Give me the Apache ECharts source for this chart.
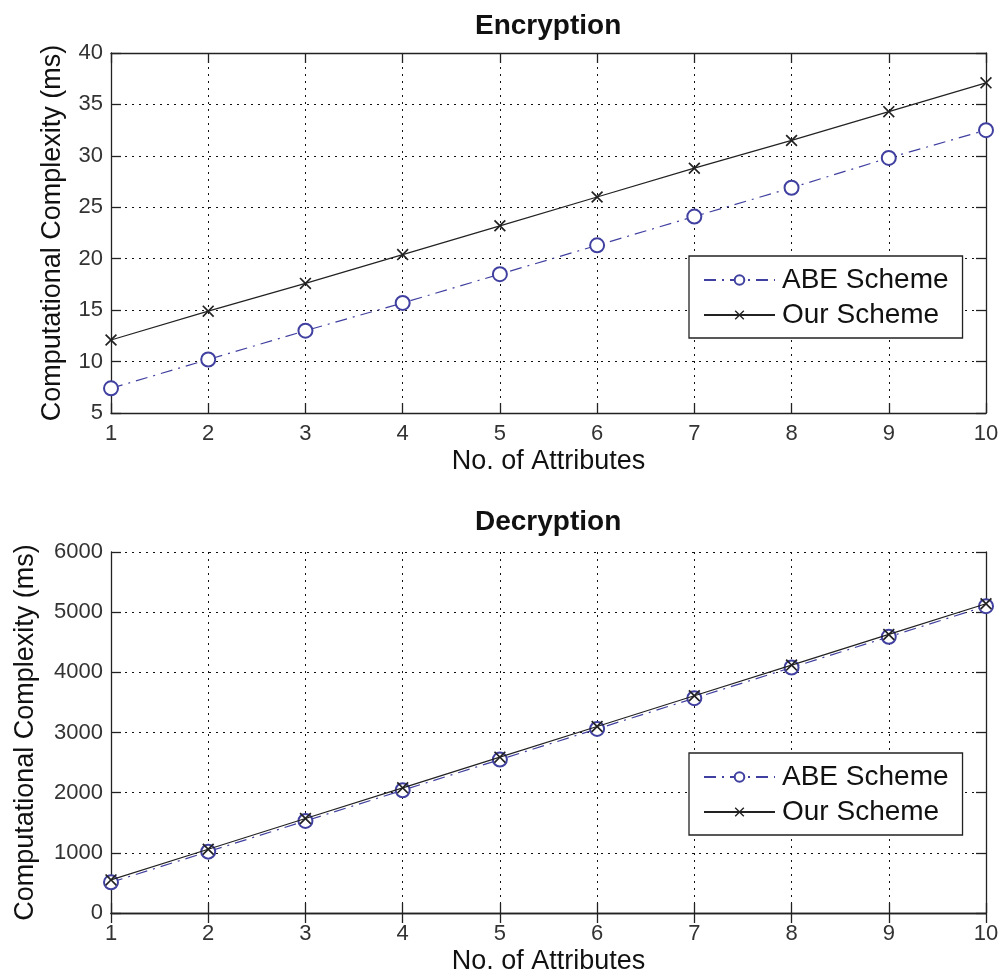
<!DOCTYPE html>
<html>
<head>
<meta charset="utf-8">
<script src="https://cdn.jsdelivr.net/npm/echarts@6/dist/echarts.min.js"></script>
<style>
html,body{margin:0;padding:0;background:#fff;}
#chart{width:1006px;height:978px;}
</style>
</head>
<body>
<div id="chart"></div>
<script>
// ---- data ----
const attributes = [1, 2, 3, 4, 5, 6, 7, 8, 9, 10];
const encABE = [7.4, 10.2, 13.0, 15.7, 18.5, 21.3, 24.1, 26.9, 29.8, 32.5];
const encOur = [12.1, 14.9, 17.6, 20.4, 23.2, 26.0, 28.8, 31.5, 34.3, 37.1];
const decABE = [510, 1020, 1530, 2040, 2550, 3060, 3570, 4080, 4590, 5100];
const decOur = [550, 1060, 1570, 2080, 2590, 3100, 3610, 4120, 4630, 5140];
const seriesNames = ['ABE Scheme', 'Our Scheme'];
const titles = ['Encryption', 'Decryption'];
const xName = 'No. of Attributes';
const yName = 'Computational Complexity (ms)';

const FONT = 'Liberation Sans, Arial, sans-serif';
const BLUE = '#4040a0';
const XSYM = 'path://M0,1L1,0L5,4L9,0L10,1L6,5L10,9L9,10L5,6L1,10L0,9L4,5Z';

function pairs(xs, ys) { return xs.map((x, i) => [x, ys[i]]); }

const grids = [
  { left: 111, right: 20, top: 53, height: 360 },
  { left: 111, right: 20, top: 552, height: 361 }
];
const yRanges = [
  { min: 5, max: 40, interval: 5, gap: 45 },
  { min: 0, max: 6000, interval: 1000, gap: 72 }
];

const xAxes = [], yAxes = [];
grids.forEach((g, gi) => {
  xAxes.push({
    type: 'value', gridIndex: gi, min: 1, max: 10, interval: 1, position: 'bottom',
    name: xName, nameLocation: 'middle', nameGap: 35,
    nameTextStyle: { fontSize: 27, color: '#111', fontFamily: FONT },
    axisLine: { lineStyle: { color: '#222', width: 1.3 } },
    axisTick: { inside: true, length: 10, lineStyle: { color: '#222', width: 1.3 } },
    axisLabel: { fontSize: 22, color: '#333', margin: 10, fontFamily: FONT },
    splitLine: { show: true, lineStyle: { color: '#111', type: [2, 5], width: 1 } }
  });
  xAxes.push({
    type: 'value', gridIndex: gi, min: 1, max: 10, interval: 1, position: 'top',
    axisLine: { lineStyle: { color: '#222', width: 1.3 } },
    axisTick: { inside: true, length: 10, lineStyle: { color: '#222', width: 1.3 } },
    axisLabel: { show: false }, splitLine: { show: false }
  });
  const r = yRanges[gi];
  yAxes.push({
    type: 'value', gridIndex: gi, min: r.min, max: r.max, interval: r.interval, position: 'left',
    name: yName, nameLocation: 'middle', nameGap: r.gap, nameRotate: 90,
    nameTextStyle: { fontSize: 27, color: '#111', fontFamily: FONT },
    axisLine: { show: true, lineStyle: { color: '#222', width: 1.3 } },
    axisTick: { show: true, inside: true, length: 10, lineStyle: { color: '#222', width: 1.3 } },
    axisLabel: { fontSize: 22, color: '#333', margin: 8, fontFamily: FONT,
                 formatter: v => String(v) },
    splitLine: { show: true, lineStyle: { color: '#111', type: [2, 5], width: 1 } }
  });
  yAxes.push({
    type: 'value', gridIndex: gi, min: r.min, max: r.max, interval: r.interval, position: 'right',
    axisLine: { show: true, lineStyle: { color: '#222', width: 1.3 } },
    axisTick: { show: true, inside: true, length: 10, lineStyle: { color: '#222', width: 1.3 } },
    axisLabel: { show: false }, splitLine: { show: false }
  });
});

function abeSeries(gi, data) {
  return {
    name: seriesNames[0], type: 'line', xAxisIndex: gi * 2, yAxisIndex: gi * 2,
    data: data, symbol: 'emptyCircle', symbolSize: 14, showAllSymbol: true,
    lineStyle: { color: BLUE, width: 1.2, type: [12, 6, 2, 6] },
    itemStyle: { color: BLUE, borderColor: BLUE, borderWidth: 1.2 },
    emphasis: { disabled: true }, z: 2
  };
}
function ourSeries(gi, data) {
  return {
    name: seriesNames[1], type: 'line', xAxisIndex: gi * 2, yAxisIndex: gi * 2,
    data: data, symbol: XSYM, symbolSize: 12, showAllSymbol: true,
    lineStyle: { color: '#222', width: 1.2, type: 'solid' },
    itemStyle: { color: '#222' },
    emphasis: { disabled: true }, z: 3
  };
}

function legendAt(top) {
  return {
    orient: 'vertical', left: 689, top: top,
    padding: [10, 14, 9, 14], itemGap: 7,
    itemWidth: 71, itemHeight: 12,
    borderColor: '#222', borderWidth: 1.3, backgroundColor: '#fff',
    textStyle: { fontSize: 28, color: '#111', fontFamily: FONT, padding: [0, 0, 0, 2] },
    data: seriesNames, selectedMode: false
  };
}

const option = {
  animation: false,
  backgroundColor: '#fff',
  title: [
    { text: titles[0], left: 475, top: 12, padding: 0,
      textStyle: { fontSize: 28, fontWeight: 'bold', color: '#111', fontFamily: FONT } },
    { text: titles[1], left: 475, top: 508, padding: 0,
      textStyle: { fontSize: 28, fontWeight: 'bold', color: '#111', fontFamily: FONT } }
  ],
  legend: [legendAt(256), legendAt(753)],
  grid: grids,
  xAxis: xAxes,
  yAxis: yAxes,
  series: [
    abeSeries(0, pairs(attributes, encABE)),
    ourSeries(0, pairs(attributes, encOur)),
    abeSeries(1, pairs(attributes, decABE)),
    ourSeries(1, pairs(attributes, decOur))
  ]
};

const chart = echarts.init(document.getElementById('chart'), null, { renderer: 'canvas' });
chart.setOption(option);
</script>
</body>
</html>
